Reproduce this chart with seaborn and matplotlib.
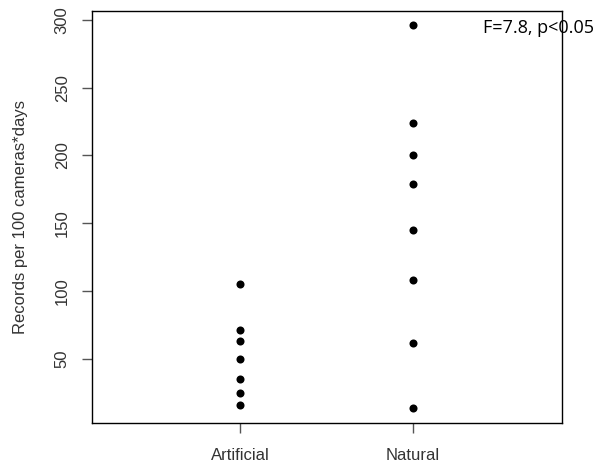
import numpy as np
import pandas as pd
import seaborn as sns
import matplotlib.pyplot as plt

sns.set_style("white")
plt.rcParams['font.family'] = ['Liberation Sans', 'DejaVu Sans']

# Records per 100 cameras*days
artificial = [105, 71, 63, 50, 35, 25, 16]
natural = [296, 224, 200, 179, 145, 108, 62, 14]
groups = ["Artificial", "Natural"]
y_ticks = [50, 100, 150, 200, 250, 300]

df = pd.DataFrame({
    "site": ["Artificial"] * len(artificial) + ["Natural"] * len(natural),
    "records": artificial + natural,
})

fig = plt.figure(figsize=(5.98, 4.71), dpi=100)
ax = fig.add_axes([0.1538, 0.1019, 0.786, 0.8747])

sns.stripplot(data=df, x="site", y="records", order=groups, jitter=False,
              color="black", size=5.8, linewidth=0, ax=ax)

ax.set_xlim(-0.855, 1.86)
ax.set_ylim(2.8, 306.5)
ax.set_yticks(y_ticks)
ax.set_yticklabels([str(t) for t in y_ticks], rotation=90, va="center")

for s in ax.spines.values():
    s.set_visible(True)
    s.set_color("black")
    s.set_linewidth(1.0)

ax.tick_params(axis="both", which="both", direction="out", length=7, width=1,
               color="#555555", labelsize=12, labelcolor="#333333",
               left=True, bottom=True)
ax.tick_params(axis="y", pad=9)
ax.tick_params(axis="x", pad=11)

ax.set_xlabel("")
ax.set_ylabel("Records per 100 cameras*days", fontsize=12, color="#333333", labelpad=19)

fig.text(0.993, 0.94, "F=7.8, p<0.05", ha="right", va="center",
         fontsize=13, family=["Open Sans", "DejaVu Sans"], color="black")

fig.savefig("out.png", dpi=100)
